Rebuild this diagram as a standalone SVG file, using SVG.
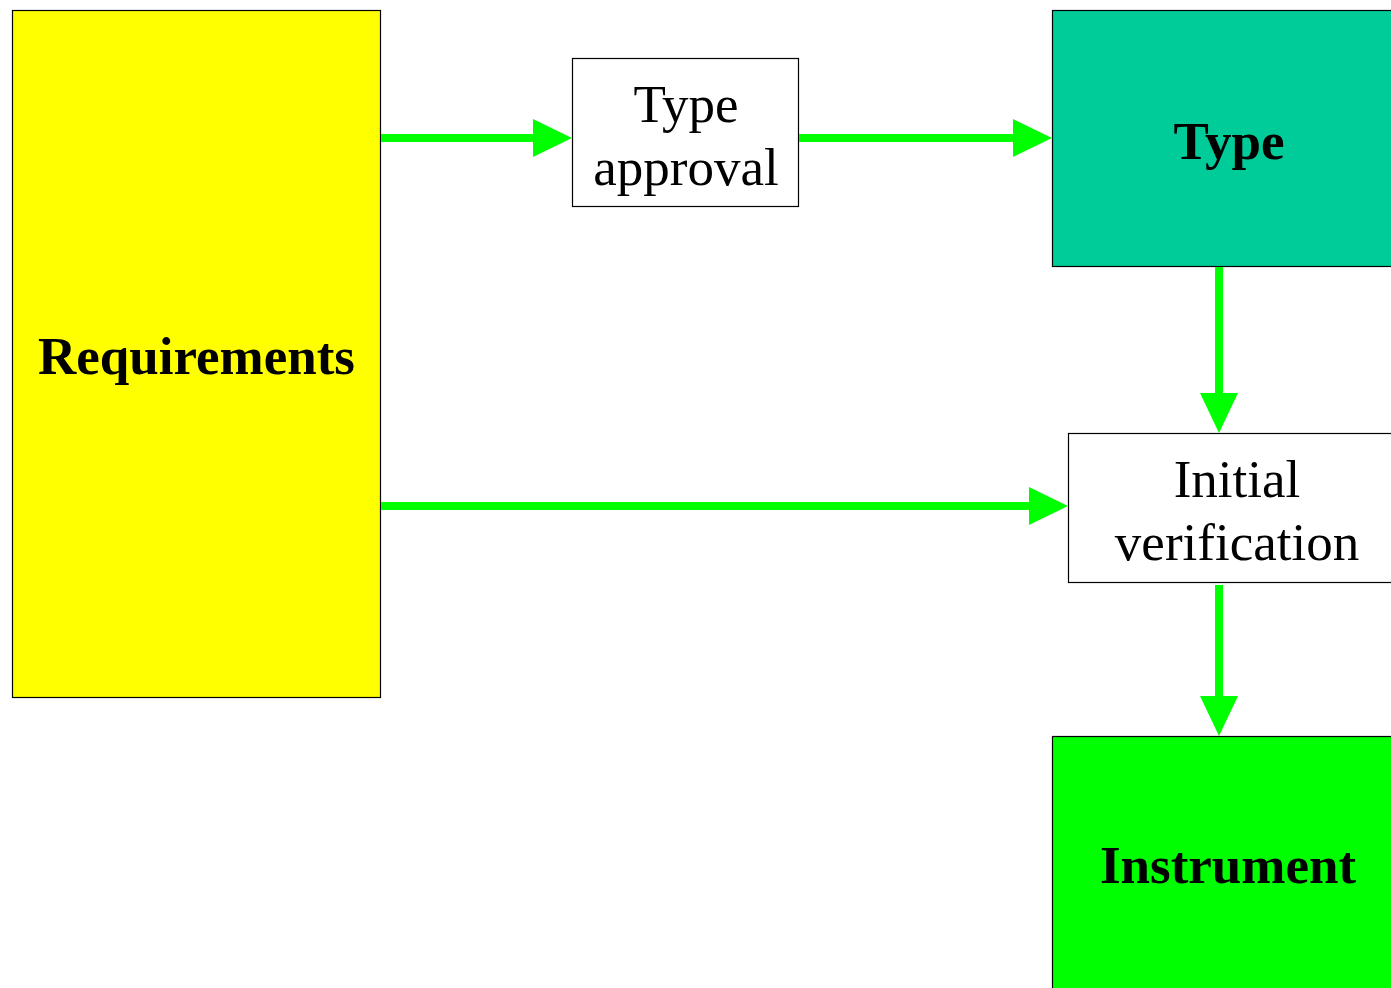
<svg xmlns="http://www.w3.org/2000/svg" width="1391" height="988" viewBox="0 0 1391 988">
<style>
.box{stroke:#000;stroke-width:1.2}
.t{font-family:"Liberation Serif","Times New Roman",serif;font-size:53px;fill:#000;text-anchor:middle}
.b{font-weight:bold}
.c{stroke:#00FF00;stroke-width:8;fill:none}
.h{fill:#00FF00}
</style>
<rect width="1391" height="988" fill="#fff"/>
<g id="requirements">
<rect class="box" x="12.5" y="10.5" width="368" height="687" fill="#FFFF00"/>
<text class="t b" x="196.5" y="374">Requirements</text>
</g>
<g id="type-approval">
<rect class="box" x="572.5" y="58.5" width="226" height="148" fill="#fff"/>
<text class="t" x="686" y="122">Type</text>
<text class="t" x="686" y="185">approval</text>
</g>
<g id="type">
<rect class="box" x="1052.5" y="10.5" width="360" height="256" fill="#00CC99"/>
<text class="t b" x="1229" y="159">Type</text>
</g>
<g id="initial-verification">
<rect class="box" x="1068.5" y="433.5" width="340" height="149" fill="#fff"/>
<text class="t" x="1237" y="497">Initial</text>
<text class="t" x="1237" y="560">verification</text>
</g>
<g id="instrument">
<rect class="box" x="1052.5" y="736.5" width="360" height="270" fill="#00FF00"/>
<text class="t b" x="1228" y="883">Instrument</text>
</g>
<g id="connectors">
<line class="c" x1="381" y1="138" x2="535" y2="138"/>
<polygon class="h" points="533,119 572,138 533,157"/>
<line class="c" x1="799" y1="138" x2="1015" y2="138"/>
<polygon class="h" points="1013,119 1052,138 1013,157"/>
<line class="c" x1="381" y1="506" x2="1031" y2="506"/>
<polygon class="h" points="1029,487 1068,506 1029,525"/>
<line class="c" x1="1219" y1="267" x2="1219" y2="395"/>
<polygon class="h" points="1200,393 1219,433 1238,393"/>
<line class="c" x1="1219" y1="585" x2="1219" y2="698"/>
<polygon class="h" points="1200,696 1219,736 1238,696"/>
</g>
</svg>
